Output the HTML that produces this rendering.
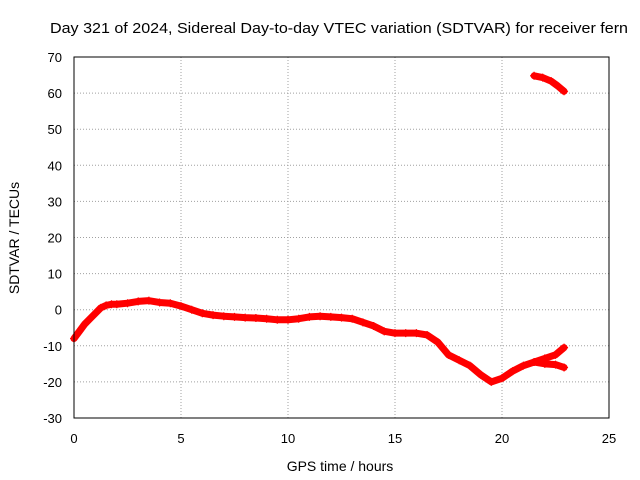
<!DOCTYPE html>
<html><head><meta charset="utf-8"><style>
body{margin:0;background:#fff;}
svg{display:block;font-family:"Liberation Sans",sans-serif;}
</style></head><body>
<svg id="chart" width="640" height="480">
<text x="339" y="33" font-size="15" text-anchor="middle" textLength="578" lengthAdjust="spacingAndGlyphs">Day 321 of 2024, Sidereal Day-to-day VTEC variation (SDTVAR) for receiver fern</text>
<text x="340" y="471" font-size="14" text-anchor="middle">GPS time / hours</text>
<text transform="translate(19,238) rotate(-90)" font-size="14" text-anchor="middle">SDTVAR / TECUs</text>
<g id="grid"></g><g id="marks"></g>
<rect x="74" y="57" width="535" height="361" fill="none" stroke="#000"/>
</svg>
<script>
const xTicks=[0,5,10,15,20,25];
const yTicks=[-30,-20,-10,0,10,20,30,40,50,60,70];
const mainT=[0,0.25,0.5,0.75,1,1.25,1.5,1.75,2,2.5,3,3.5,4,4.5,5,5.5,6,6.5,7,7.5,8,8.5,9,9.5,10,10.5,11,11.5,12,12.5,13,13.5,14,14.5,15,15.5,16,16.5,17,17.5,18,18.5,19,19.5,20,20.5,21,21.5,22,22.5,22.9];
const mainV=[-8,-6,-4,-2.5,-1,0.5,1.2,1.5,1.5,1.8,2.3,2.5,2,1.8,1,0,-1,-1.5,-1.8,-2,-2.2,-2.3,-2.5,-2.8,-2.8,-2.5,-2,-1.8,-2,-2.2,-2.5,-3.5,-4.5,-6,-6.5,-6.5,-6.5,-7,-9,-12.5,-14,-15.5,-18,-20,-19,-17,-15.5,-14.5,-13.5,-12.5,-10.5];
const lowT=[21.5,22,22.5,22.9];
const lowV=[-14.5,-15,-15.2,-16];
const highT=[21.5,21.9,22.3,22.6,22.9];
const highV=[64.8,64.3,63.3,62,60.5];
const X=t=>74+t*535/25, Y=v=>57+(70-v)*361/100;
const NS="http://www.w3.org/2000/svg", svg=document.getElementById('chart');
const grid=document.getElementById('grid'), marks=document.getElementById('marks');
function mk(tag,attrs,parent){const e=document.createElementNS(NS,tag);for(const k in attrs)e.setAttribute(k,attrs[k]);parent.appendChild(e);return e;}
xTicks.forEach(t=>{
 if(t>0&&t<25){const g=mk('line',{x1:X(t),x2:X(t),y1:57,y2:418,stroke:'#a0a0a0','stroke-dasharray':'1,2'},grid);
 
 }
 const l=mk('text',{x:X(t),y:443,'font-size':13,'text-anchor':'middle'},svg);l.textContent=t;
 
 
});
yTicks.forEach(v=>{
 if(v>-30&&v<70){const g=mk('line',{x1:74,x2:609,y1:Y(v),y2:Y(v),stroke:'#a0a0a0','stroke-dasharray':'1,2'},grid);
 
 }
 const l=mk('text',{x:62,y:Y(v)+5,'font-size':13,'text-anchor':'end'},svg);l.textContent=v;
 
 
});
function series(T,V,name){
 const p=mk('polyline',{points:T.map((t,i)=>X(t)+','+Y(V[i])).join(' '),fill:'none',stroke:'#ff0000','stroke-width':7,'stroke-linejoin':'round','stroke-linecap':'round'},marks);
 
 
 T.forEach((t,i)=>{const x=X(t),y=Y(V[i]);
  const c=mk('path',{d:`M${x-4},${y}H${x+4}M${x},${y-4}V${y+4}`,stroke:'#ff0000','stroke-width':1.2},marks);
  
  });
}
series(mainT,mainV,'sdtvar-main-series');
series(lowT,lowV,'sdtvar-low-branch');
series(highT,highV,'sdtvar-high-branch');
</script>
</body></html>
